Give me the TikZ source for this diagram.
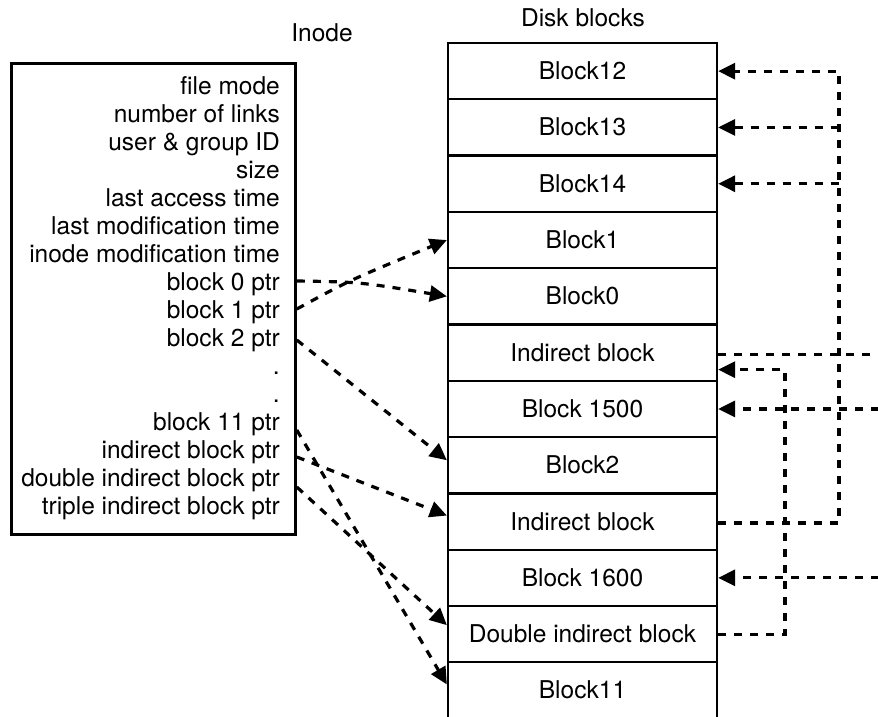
\documentclass[tikz,border=0pt]{standalone}
\usepackage{fontspec}
\setmainfont{TeX Gyre Heros}
\usetikzlibrary{arrows.meta,calc}
\begin{document}
\begin{tikzpicture}[x=1pt,y=-1pt,
  every node/.style={font=\fontsize{24.5}{28}\selectfont, inner sep=0pt},
  field/.style={anchor=base east},
  blockrow/.style={draw, line width=2.3pt, minimum width=269pt, minimum height=56.3pt,
    text height=17pt, text depth=0pt},
  link/.style={line width=3.2pt, dash pattern=on 8pt off 8pt},
  tip/.style={-{Triangle[length=17pt,width=16pt]}},
]
\useasboundingbox (0,0) rectangle (878,717);

% headings
\node[anchor=base] (inodelabel) at (322,42) {Inode};
\node[anchor=base] (disklabel) at (583,27) {Disk blocks};

% inode record
\node[draw, line width=2.8pt, minimum width=284pt, minimum height=471pt,
      anchor=north west] (inode) at (10,62) {};
\node[field] (fmode) at (280,94)  {file mode};
\node[field] (links) at (280,122) {number of links};
\node[field] (ids)   at (280,150) {user \& group ID};
\node[field] (size)  at (280,178) {size};
\node[field] (atime) at (280,206) {last access time};
\node[field] (mtime) at (280,234) {last modification time};
\node[field] (ctime) at (280,262) {inode modification time};
\node[field] (p0)    at (280,290) {block 0 ptr};
\node[field] (p1)    at (280,318) {block 1 ptr};
\node[field] (p2)    at (280,346) {block 2 ptr};
\node[field] (dota)  at (280,374) {.};
\node[field] (dotb)  at (280,402) {.};
\node[field] (p11)   at (280,430) {block 11 ptr};
\node[field] (pind)  at (280,458) {indirect block ptr};
\node[field] (pdbl)  at (280,486) {double indirect block ptr};
\node[field] (ptpl)  at (280,514) {triple indirect block ptr};

% disk block column
\node[blockrow] (r12)   at (582.5,71.15)  {Block12};
\node[blockrow] (r13)   at (582.5,127.45) {Block13};
\node[blockrow] (r14)   at (582.5,183.75) {Block14};
\node[blockrow] (r1)    at (582.5,240.05) {Block1};
\node[blockrow] (r0)    at (582.5,296.35) {Block0};
\node[blockrow] (ind1)  at (582.5,352.65) {Indirect block};
\node[blockrow] (b1500) at (582.5,408.95) {Block 1500};
\node[blockrow] (r2)    at (582.5,465.25) {Block2};
\node[blockrow] (ind2)  at (582.5,521.55) {Indirect block};
\node[blockrow] (b1600) at (582.5,577.85) {Block 1600};
\node[blockrow] (dind)  at (582.5,634.15) {Double indirect block};
\node[blockrow] (r11)   at (582.5,690.45) {Block11};

% pointer start points on the inode border
\coordinate (s0)   at ($(inode.east |- p0.base)+(0,-9)$);
\coordinate (s1)   at ($(inode.east |- p1.base)+(0,-9)$);
\coordinate (s2)   at ($(inode.east |- p2.base)+(0,-6)$);
\coordinate (s11)  at ($(inode.east |- p11.base)+(0,0)$);
\coordinate (sind) at ($(inode.east |- pind.base)+(0,-1)$);
\coordinate (sdbl) at ($(inode.east |- pdbl.base)+(0,1)$);

% direct and indirect pointers from the inode
\draw[link,tip] (s0) .. controls (360,282) .. (r0.west);
\draw[link,tip] (s1) .. controls (350,280) .. (r1.west);
\draw[link,tip] (s2) -- ([yshift=5pt]r2.west);
\draw[link,tip] (s11) -- ([yshift=6pt]r11.west);
\draw[link,tip] (sind) -- ([yshift=6pt]ind2.west);
\draw[link,tip] (sdbl) -- ([yshift=9pt]dind.west);

% routing columns on the right
\coordinate (va) at (839,0);
\coordinate (vb) at (785,0);

% indirect block -> Block12, Block13, Block14
\draw[link,tip] ([yshift=-1.5pt]ind2.east) -| (va |- r12.east) -- (r12.east);
\draw[link,tip] (va |- r13.east) -- (r13.east);
\draw[link,tip] (va |- r14.east) -- (r14.east);

% double indirect block -> indirect block
\coordinate (ind1in) at ([yshift=-17pt]ind1.east);
\draw[link,tip] (dind.east) -| (vb |- ind1in) -- (ind1in);

% links leaving / entering at the right edge
\coordinate (o1)    at ($([yshift=-1.5pt]ind1.east)+(161,0)$);
\coordinate (i1500) at ($(b1500.east)+(161,0)$);
\coordinate (i1600) at ($(b1600.east)+(161,0)$);
\draw[link] ([yshift=-1.5pt]ind1.east) -- (o1);
\draw[link,tip] (i1500) -- (b1500.east);
\draw[link,tip] (i1600) -- (b1600.east);
\end{tikzpicture}
\end{document}
